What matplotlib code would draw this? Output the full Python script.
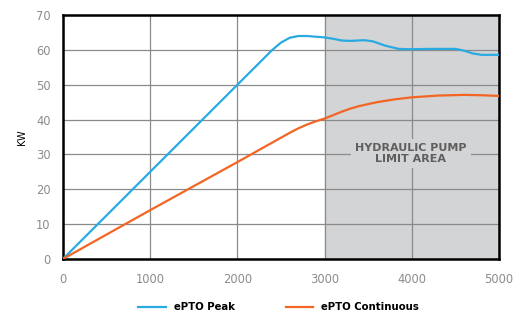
import matplotlib

matplotlib.use("Agg")

import matplotlib.pyplot as plt  # noqa: E402

plt.rcParams["font.family"] = ["DejaVu Sans"]

# engine speed (rpm) and power (kW)
peak_rpm = [0, 500, 1000, 1500, 2000, 2300, 2400, 2500, 2600, 2700, 2800, 3000, 3100, 3200,
            3300, 3450, 3550, 3700, 3850, 4000, 4200, 4500, 4600, 4700, 4800, 5000]
peak_kw = [0, 12.5, 25, 37.5, 50, 57.5, 60, 62.1, 63.5, 64, 64, 63.6, 63.2, 62.7,
           62.6, 62.8, 62.5, 61.2, 60.3, 60.2, 60.3, 60.3, 59.8, 59.0, 58.6, 58.6]

cont_rpm = [0, 1000, 2000, 2600, 2700, 2800, 2900, 3000, 3100, 3200, 3300, 3400, 3600, 3800,
            4000, 4300, 4600, 4800, 5000]
cont_kw = [0, 14, 27.8, 36.2, 37.5, 38.6, 39.5, 40.3, 41.3, 42.3, 43.2, 43.9, 45.0, 45.8,
           46.4, 46.9, 47.1, 47.0, 46.8]

limit_start, limit_end = 3000, 5000
x_ticks = [0, 1000, 2000, 3000, 4000, 5000]
y_ticks = [0, 10, 20, 30, 40, 50, 60, 70]

BLUE = "#29abe2"
ORANGE = "#f26522"
TICK_GRAY = "#8c8c8c"
SHADE = "#d3d4d6"

fig = plt.figure(figsize=(5.16, 3.15), dpi=100)
ax = fig.add_axes((0.122, 0.178, 0.845, 0.774))

ax.axvspan(limit_start, limit_end, color=SHADE, zorder=0)
ax.plot(peak_rpm, peak_kw, color=BLUE, lw=1.6, label="ePTO Peak", zorder=3)
ax.plot(cont_rpm, cont_kw, color=ORANGE, lw=1.6, label="ePTO Continuous", zorder=3)

ax.text(3990, 30.3, "HYDRAULIC PUMP\nLIMIT AREA", ha="center", va="center",
        fontsize=8, fontweight="bold", color="#5e5e5e", linespacing=1.15, zorder=2,
        bbox=dict(facecolor=SHADE, edgecolor="none", pad=3))

ax.set_xlim(0, 5000)
ax.set_ylim(0, 70)
ax.set_xticks(x_ticks)
ax.set_yticks(y_ticks)
ax.tick_params(length=0, labelsize=8.3, labelcolor=TICK_GRAY)
ax.tick_params(axis="x", pad=10)
ax.tick_params(axis="y", pad=9)
ax.grid(True, color="#8a8a8a", lw=0.9)
ax.set_axisbelow(True)
for sp in ax.spines.values():
    sp.set_color("black")
    sp.set_linewidth(1.8)
ax.set_ylabel("KW", fontsize=7, color="black", labelpad=6)

fig.legend(loc="lower center", bbox_to_anchor=(0.54, -0.02), ncol=2, frameon=False,
           handlelength=2.7, columnspacing=5.0, prop={"size": 7.3, "weight": "bold"})

fig.savefig("out.png", dpi=100)
